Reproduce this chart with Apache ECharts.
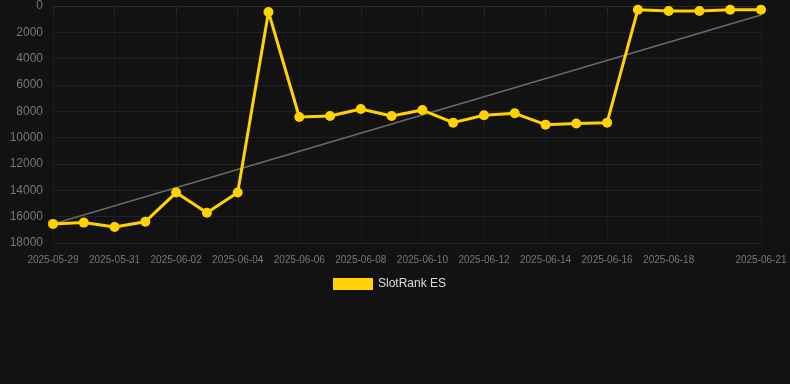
<!doctype html>
<html>
<head>
<meta charset="utf-8">
<script src="https://cdn.jsdelivr.net/npm/echarts@6/dist/echarts.min.js"></script>
<style>
  html, body { margin: 0; padding: 0; background: #121212; }
  #main { width: 790px; height: 384px; }
</style>
</head>
<body>
<div id="main"></div>
<script>
var dates = ['2025-05-29', '2025-05-30', '2025-05-31', '2025-06-01', '2025-06-02', '2025-06-03',
  '2025-06-04', '2025-06-05', '2025-06-06', '2025-06-07', '2025-06-08', '2025-06-09',
  '2025-06-10', '2025-06-11', '2025-06-12', '2025-06-13', '2025-06-14', '2025-06-15',
  '2025-06-16', '2025-06-17', '2025-06-18', '2025-06-19', '2025-06-20', '2025-06-21'];
var ranks = [16550, 16450, 16780, 16380, 14170, 15700, 14160, 450, 8430, 8360, 7820, 8360,
  7900, 8860, 8300, 8150, 9010, 8930, 8860, 280, 380, 380, 280, 280];
var trendStart = 16550;
var trendEnd = 680;
var seriesName = 'SlotRank ES';

var trend = dates.map(function (d, i) {
  if (i === 0) return trendStart;
  if (i === dates.length - 1) return trendEnd;
  return null;
});

function showLabel(i) {
  if (i === dates.length - 1) return true;
  if (i === dates.length - 2) return false;
  return i % 2 === 0;
}

var chart = echarts.init(document.getElementById('main'));
chart.setOption({
  backgroundColor: '#121212',
  animation: false,
  grid: { left: 53, right: 29, top: 6, bottom: 141 },
  legend: {
    top: 273,
    left: 328,
    itemWidth: 40,
    itemHeight: 12,
    data: [seriesName],
    textStyle: { color: '#dddddd', fontSize: 12 },
    icon: 'rect'
  },
  xAxis: {
    type: 'category',
    boundaryGap: false,
    data: dates,
    axisLine: { lineStyle: { color: '#2a2a2a' } },
    axisTick: { show: true, interval: showLabel, lineStyle: { color: '#2a2a2a' } },
    axisLabel: { color: '#777777', fontSize: 10, margin: 12, interval: function (i) { return showLabel(i); } },
    splitLine: { show: true, interval: function (i) { return showLabel(i); }, lineStyle: { color: '#1c1c1c' } }
  },
  yAxis: {
    type: 'value',
    inverse: true,
    min: 0,
    max: 18000,
    interval: 2000,
    axisLine: { show: false },
    axisTick: { show: false },
    axisLabel: { color: '#777777', fontSize: 12, margin: 10, formatter: function (v) { return String(v); } },
    splitLine: { lineStyle: { color: '#222222' } }
  },
  series: [
    {
      name: seriesName,
      type: 'line',
      data: ranks,
      color: '#ffd200',
      symbol: 'circle',
      symbolSize: 10,
      lineStyle: { width: 3, color: '#ffd200' },
      itemStyle: { color: '#ffd200' },
      z: 3
    },
    {
      name: 'trend',
      type: 'line',
      data: trend,
      connectNulls: true,
      symbol: 'none',
      lineStyle: { width: 1.5, color: '#6a6a6a' },
      z: 2
    }
  ]
});
</script>
</body>
</html>
